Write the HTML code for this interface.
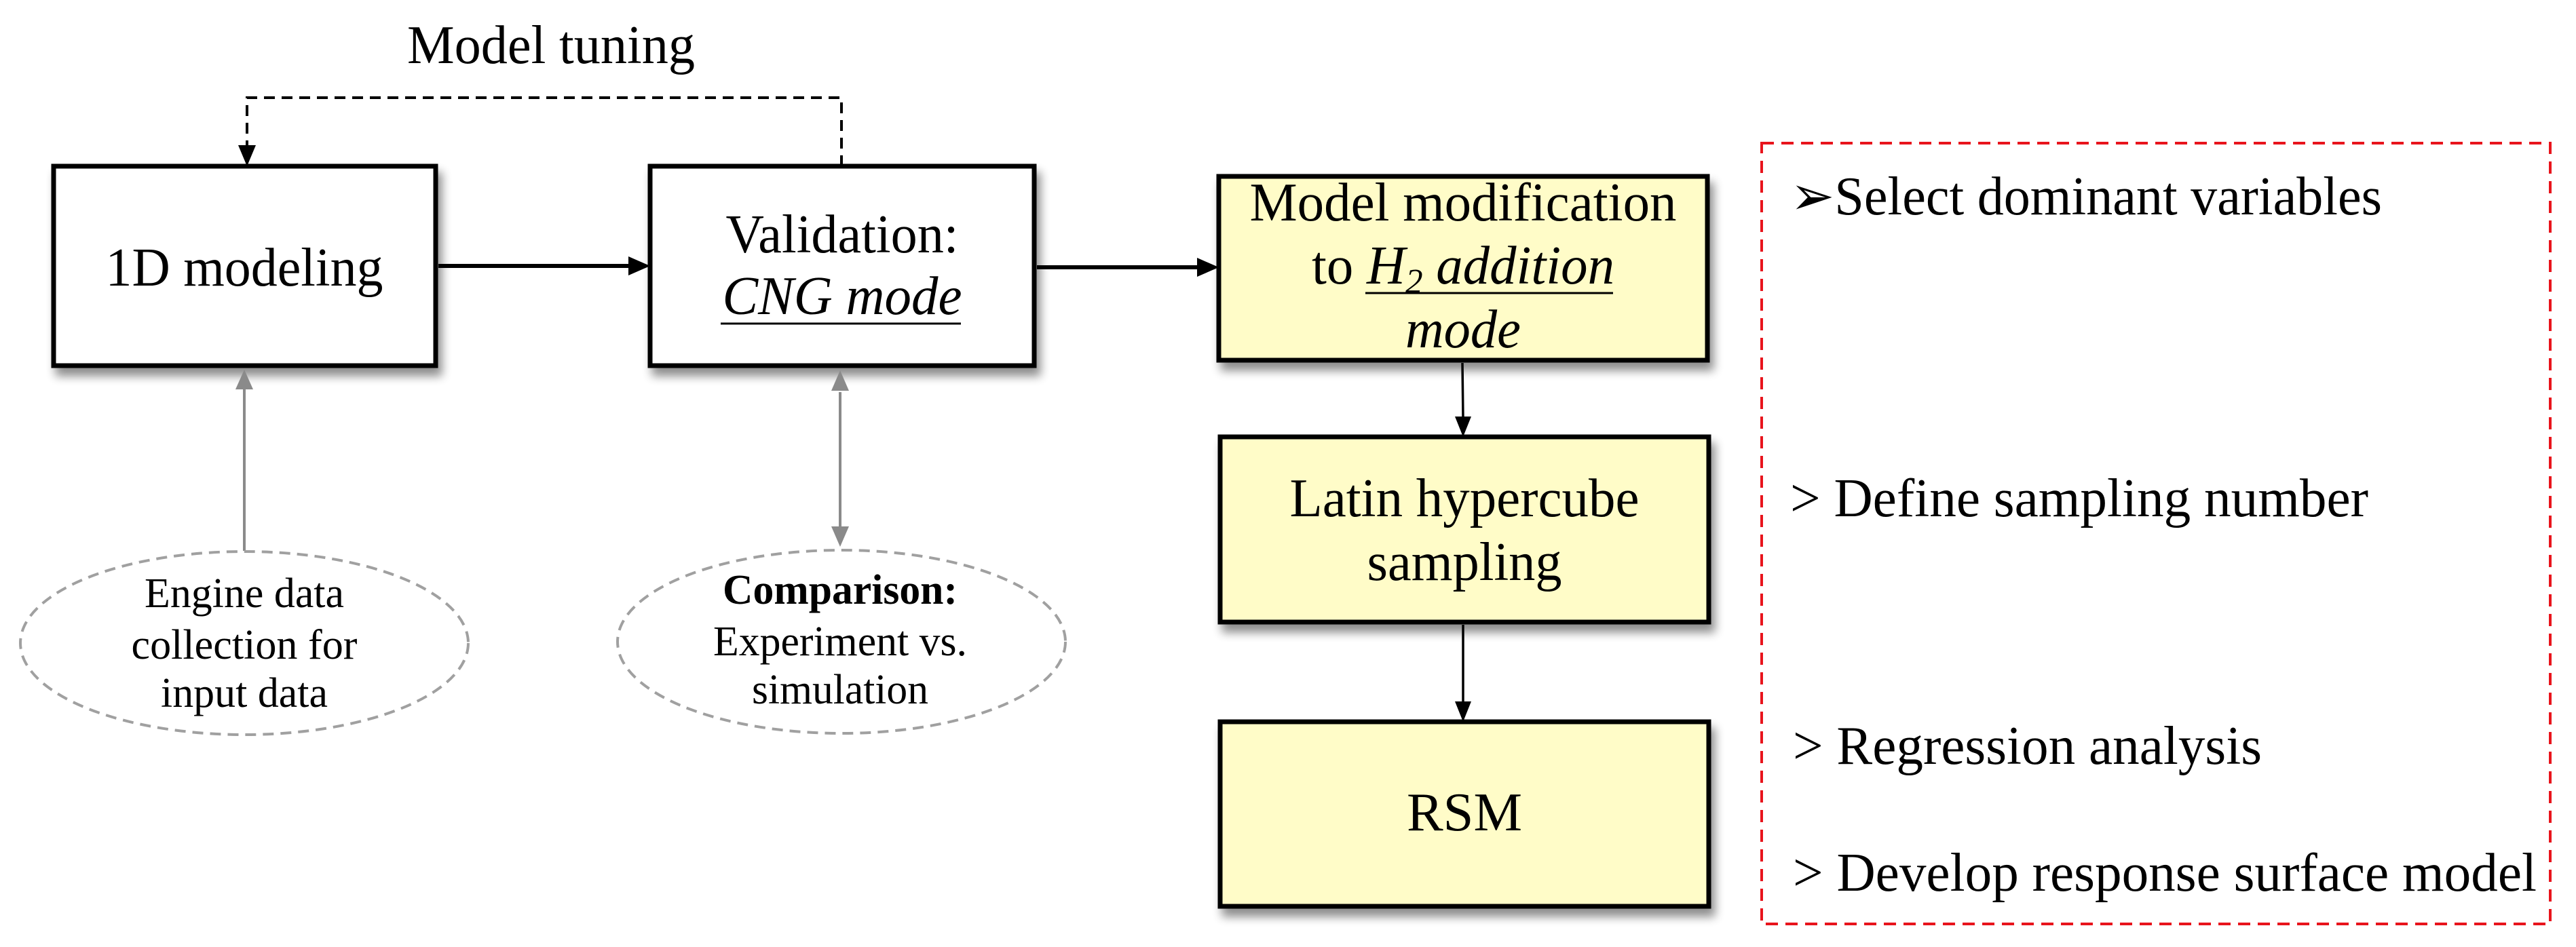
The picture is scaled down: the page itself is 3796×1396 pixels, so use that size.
<!DOCTYPE html>
<html><head><meta charset="utf-8"><style>
html,body{margin:0;padding:0;background:#fff;}
svg{display:block;}
text{font-family:"Liberation Serif","Times New Roman",serif;fill:#000;}
</style></head><body>
<svg width="3796" height="1396" viewBox="0 0 3796 1396" xmlns="http://www.w3.org/2000/svg">
<defs>
<filter id="sh" x="-10%" y="-10%" width="130%" height="140%">
<feGaussianBlur in="SourceAlpha" stdDeviation="7"/>
<feOffset dx="6" dy="12"/>
<feComponentTransfer><feFuncA type="linear" slope="0.45"/></feComponentTransfer>
<feMerge><feMergeNode/><feMergeNode in="SourceGraphic"/></feMerge>
</filter>
</defs>

<text x="812" y="93" font-size="80" text-anchor="middle" textLength="424" lengthAdjust="spacingAndGlyphs">Model tuning</text>

<polyline points="1240,245 1240,144 364,144 364,218" fill="none" stroke="#000" stroke-width="4" stroke-dasharray="16,10"/>
<polygon points="351,214 377,214 364,245" fill="#000"/>

<rect x="79" y="245" width="563" height="294" fill="#fff" stroke="#000" stroke-width="7" filter="url(#sh)"/>
<rect x="958" y="245" width="566" height="294" fill="#fff" stroke="#000" stroke-width="7" filter="url(#sh)"/>
<rect x="1796" y="260" width="720" height="271" fill="#fffcc8" stroke="#000" stroke-width="7" filter="url(#sh)"/>
<rect x="1798" y="644" width="720" height="273" fill="#fffcc8" stroke="#000" stroke-width="7" filter="url(#sh)"/>
<rect x="1798" y="1064" width="720" height="272" fill="#fffcc8" stroke="#000" stroke-width="7" filter="url(#sh)"/>

<text x="360" y="421" font-size="80" text-anchor="middle" textLength="409" lengthAdjust="spacingAndGlyphs">1D modeling</text>
<text x="1241" y="372" font-size="80" text-anchor="middle" textLength="343" lengthAdjust="spacingAndGlyphs">Validation:</text>
<text x="1241" y="463" font-size="80" text-anchor="middle" font-style="italic" textLength="353" lengthAdjust="spacingAndGlyphs">CNG mode</text>
<line x1="1062" y1="477" x2="1416" y2="477" stroke="#000" stroke-width="3"/>

<text x="2156" y="325" font-size="80" text-anchor="middle" textLength="629" lengthAdjust="spacingAndGlyphs">Model modification</text>
<text x="2156" y="418" font-size="80" text-anchor="middle" textLength="446" lengthAdjust="spacingAndGlyphs">to <tspan font-style="italic">H<tspan font-size="52" dy="14">2</tspan><tspan dy="-14"> addition</tspan></tspan></text>
<line x1="2012" y1="432" x2="2377" y2="432" stroke="#000" stroke-width="3"/>
<text x="2156" y="512" font-size="80" text-anchor="middle" font-style="italic" textLength="170" lengthAdjust="spacingAndGlyphs">mode</text>

<text x="2158" y="761" font-size="80" text-anchor="middle" textLength="515" lengthAdjust="spacingAndGlyphs">Latin hypercube</text>
<text x="2158" y="855" font-size="80" text-anchor="middle" textLength="287" lengthAdjust="spacingAndGlyphs">sampling</text>
<text x="2158" y="1224" font-size="80" text-anchor="middle" textLength="170" lengthAdjust="spacingAndGlyphs">RSM</text>

<line x1="646" y1="392" x2="928" y2="392" stroke="#000" stroke-width="6"/>
<polygon points="926,378 958,392 926,406" fill="#000"/>
<line x1="1528" y1="394" x2="1766" y2="394" stroke="#000" stroke-width="6"/>
<polygon points="1764,380 1796,394 1764,408" fill="#000"/>
<line x1="2155" y1="535" x2="2156" y2="616" stroke="#000" stroke-width="3.5"/>
<polygon points="2144,614 2168,614 2156,644" fill="#000"/>
<line x1="2156" y1="921" x2="2156" y2="1036" stroke="#000" stroke-width="3.5"/>
<polygon points="2144,1034 2168,1034 2156,1064" fill="#000"/>

<line x1="360" y1="812" x2="360" y2="572" stroke="#8a8a8a" stroke-width="4"/>
<polygon points="347,574 373,574 360,545" fill="#8a8a8a"/>
<line x1="1238" y1="578" x2="1238" y2="776" stroke="#8a8a8a" stroke-width="4"/>
<polygon points="1225,576 1251,576 1238,546" fill="#8a8a8a"/>
<polygon points="1225,776 1251,776 1238,806" fill="#8a8a8a"/>

<ellipse cx="360" cy="948" rx="330" ry="135" fill="#fff" stroke="#a0a0a0" stroke-width="4" stroke-dasharray="16,10"/>
<ellipse cx="1240" cy="946" rx="330" ry="135" fill="#fff" stroke="#a0a0a0" stroke-width="4" stroke-dasharray="16,10"/>
<text x="360" y="895" font-size="62" text-anchor="middle" textLength="294" lengthAdjust="spacingAndGlyphs">Engine data</text>
<text x="360" y="971" font-size="62" text-anchor="middle" textLength="333" lengthAdjust="spacingAndGlyphs">collection for</text>
<text x="360" y="1042" font-size="62" text-anchor="middle" textLength="246" lengthAdjust="spacingAndGlyphs">input data</text>
<text x="1238" y="890" font-size="62" text-anchor="middle" font-weight="bold" textLength="346" lengthAdjust="spacingAndGlyphs">Comparison:</text>
<text x="1238" y="966" font-size="62" text-anchor="middle" textLength="374" lengthAdjust="spacingAndGlyphs">Experiment vs.</text>
<text x="1238" y="1037" font-size="62" text-anchor="middle" textLength="260" lengthAdjust="spacingAndGlyphs">simulation</text>

<rect x="2596" y="211" width="1162" height="1151" fill="none" stroke="#e8141c" stroke-width="4" stroke-dasharray="18,11"/>
<text x="2638" y="316" font-size="80" textLength="872" lengthAdjust="spacingAndGlyphs">➢Select dominant variables</text>
<text x="2638" y="761" font-size="80" textLength="852" lengthAdjust="spacingAndGlyphs">&gt; Define sampling number</text>
<text x="2642" y="1126" font-size="80" textLength="691" lengthAdjust="spacingAndGlyphs">&gt; Regression analysis</text>
<text x="2642" y="1313" font-size="80" textLength="1096" lengthAdjust="spacingAndGlyphs">&gt; Develop response surface model</text>
</svg>
</body></html>
